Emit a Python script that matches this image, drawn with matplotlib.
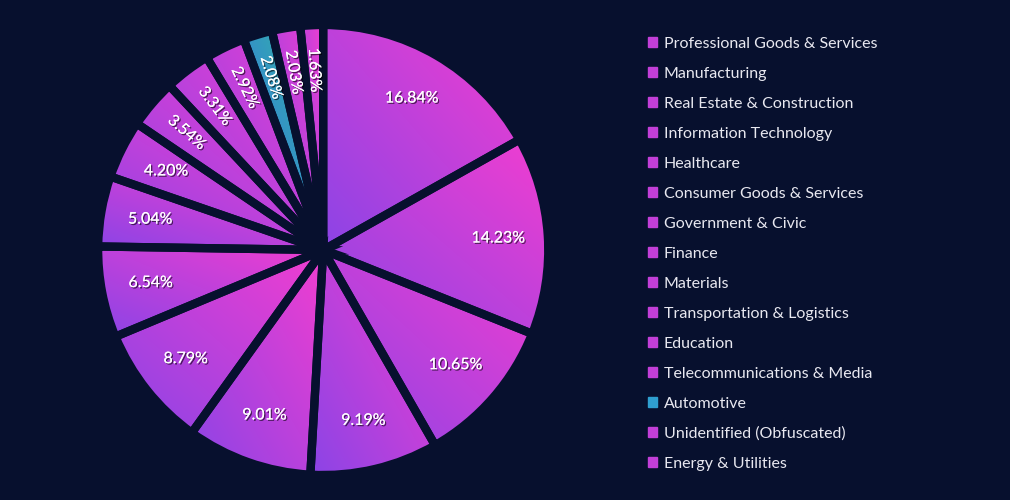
import numpy as np
import matplotlib.pyplot as plt
import matplotlib.patheffects as pe
from matplotlib.colors import LinearSegmentedColormap

sectors = ["Professional Goods & Services", "Manufacturing", "Real Estate & Construction",
           "Information Technology", "Healthcare", "Consumer Goods & Services",
           "Government & Civic", "Finance", "Materials", "Transportation & Logistics",
           "Education", "Telecommunications & Media", "Automotive",
           "Unidentified (Obfuscated)", "Energy & Utilities"]
shares = [16.84, 14.23, 10.65, 9.19, 9.01, 8.79, 6.54, 5.04, 4.20, 3.54, 3.31, 2.92, 2.08, 2.03, 1.63]

bg = "#07102e"
pink = LinearSegmentedColormap.from_list("pink", ["#8b44e6", "#f23ed0"])
teal = LinearSegmentedColormap.from_list("teal", ["#3a60f0", "#2fc59b"])

fig = plt.figure(figsize=(10.1, 5.0), dpi=100, facecolor=bg)
ax = fig.add_axes([0.0, 0.0, 0.64, 1.0])
ax.set_facecolor(bg)
wedges, _ = ax.pie(shares, startangle=90, counterclock=False, radius=1,
                   wedgeprops=dict(edgecolor=bg, linewidth=6))

g = np.linspace(0, 1, 200)
grad = (g[None, :] + g[::-1, None]) / 2
for i, w in enumerate(wedges):
    ext = w.get_path().get_extents()
    cmap = teal if sectors[i] == "Automotive" else pink
    im = ax.imshow(grad, cmap=cmap, extent=[ext.x0, ext.x1, ext.y0, ext.y1],
                   origin="upper", zorder=1, aspect="auto")
    im.set_clip_path(w)
    w.set_facecolor("none")
    w.set_zorder(2)

shadow = [pe.withSimplePatchShadow(offset=(1, -1), shadow_rgbFace="black", alpha=0.6), pe.Normal()]
for i, w in enumerate(wedges):
    th = (w.theta1 + w.theta2) / 2
    r = 0.78 if shares[i] > 4 else 0.8
    x, y = r * np.cos(np.radians(th)), r * np.sin(np.radians(th))
    rot = th - 180 if shares[i] < 4 else 0
    ax.text(x, y, f"{shares[i]:.2f}%", color="white", fontsize=11.5, family="Lato",
            ha="center", va="center", rotation=rot, rotation_mode="anchor",
            path_effects=shadow, zorder=3)

ax.set_aspect("auto")
ax.set_xlim(-1.436, 1.436)
ax.set_ylim(-1.111, 1.111)
ax.axis("off")
handles = [plt.Rectangle((0, 0), 1, 1, color="#c23fd8") for _ in sectors]
handles[12] = plt.Rectangle((0, 0), 1, 1, color="#2f9fd0")
leg = fig.legend(handles, sectors, loc="upper left", bbox_to_anchor=(0.627, 0.955),
                 frameon=False, fontsize=11.5,
                 handlelength=0.6, handleheight=0.6, handletextpad=0.4,
                 labelspacing=1.0, prop={"family": "Lato", "size": 11.5})
for t in leg.get_texts():
    t.set_color("#e8e8f0")
fig.savefig("out.png", dpi=100, facecolor=bg)
